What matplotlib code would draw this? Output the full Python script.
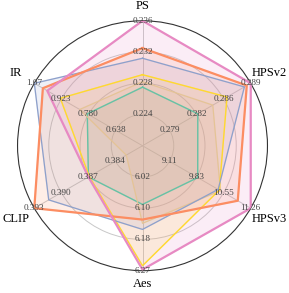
import numpy as np
import matplotlib.pyplot as plt

plt.rcParams['font.family'] = ['Liberation Serif', 'DejaVu Serif']

metrics = ['PS', 'HPSv2', 'HPSv3', 'Aes', 'CLIP', 'IR']
axis_min = [0.220, 0.2756, 8.392, 5.937, 0.381, 0.4952]
axis_max = [0.236, 0.2893, 11.264, 6.267, 0.393, 1.0652]

green = [0.2275, 0.2826, 9.857, 6.092, 0.387, 0.786]
tan = [0.2282, 0.2845, 10.46, 6.142, 0.3828, 0.826]
yellow = [0.2291, 0.2863, 10.43, 6.254, 0.3869, 0.928]
blue = [0.2312, 0.2885, 10.40, 6.158, 0.3914, 1.065]
orange = [0.2325, 0.2888, 10.92, 6.132, 0.393, 1.020]
pink = [0.236, 0.2893, 11.264, 6.264, 0.387, 0.997]

series = [green, tan, yellow, blue, orange, pink]
colors = ['#66c2a5', '#e5c494', '#ffd92f', '#8da0cb', '#fc8d62', '#e78ac3']
widths = [1.0, 0.8, 1.0, 0.9, 1.6, 1.6]

n = len(metrics)
angles = np.arange(n) * 2 * np.pi / n
lo = np.array(axis_min)
hi = np.array(axis_max)

fig = plt.figure(figsize=(2.89, 2.93), dpi=100)
ax = fig.add_axes([0.0606, 0.0761, 0.865, 0.853], polar=True)
ax.set_theta_offset(np.pi / 2)
ax.set_theta_direction(-1)
ax.set_ylim(0, 1)

for vals, c, lw in zip(series, colors, widths):
    r = (np.array(vals) - lo) / (hi - lo)
    a = np.append(angles, angles[0])
    r = np.append(r, r[0])
    ax.fill(a, r, color=c, alpha=0.15, zorder=2)
    ax.plot(a, r, color=c, lw=lw, zorder=3)

ax.set_xticks(angles)
ax.set_xticklabels([])
ax.set_yticks([0.25, 0.5, 0.75])
ax.set_yticklabels([])
ax.grid(color='#c8c8c8', lw=0.7)
ax.spines['polar'].set_color('#333333')
ax.spines['polar'].set_linewidth(0.8)

# per-axis scale labels
for i in range(n):
    for f in [0.25, 0.5, 0.75, 1.0]:
        v = lo[i] + f * (hi[i] - lo[i])
        s = '%.3f' % v if v < 1 else '%.2f' % v
        ax.text(angles[i], f, s, ha='center', va='center', fontsize=6.6,
                color='#444444', zorder=5)

label_r = [1.12, 1.17, 1.17, 1.11, 1.17, 1.17]
for i in range(n):
    ax.text(angles[i], label_r[i], metrics[i], ha='center', va='center',
            fontsize=9, color='black')

fig.savefig('out.png', dpi=100)
